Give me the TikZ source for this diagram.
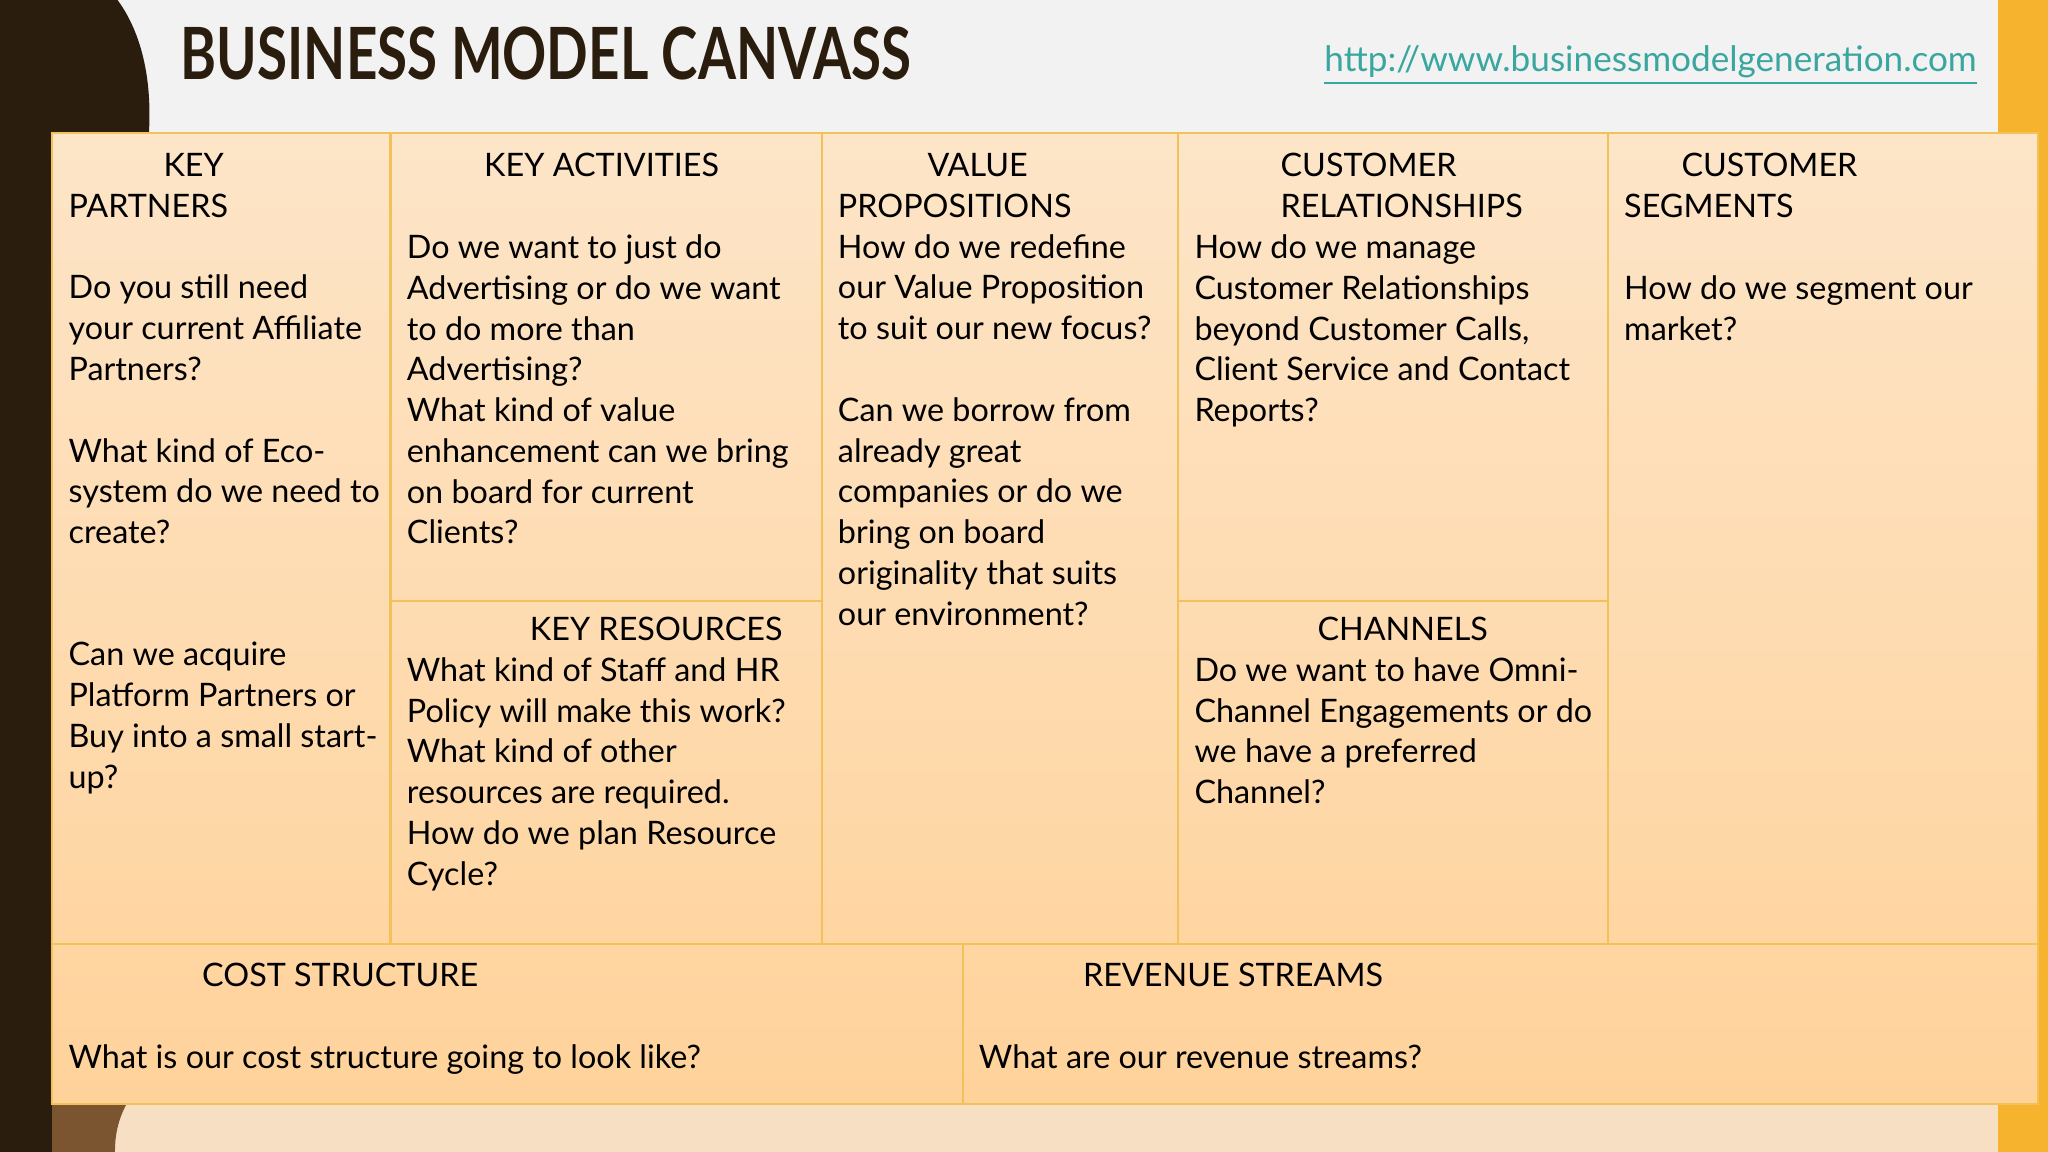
\documentclass[tikz,border=0pt]{standalone}
\usepackage{fontspec}
\setmainfont{Lato}
\definecolor{brown}{HTML}{2B1D0E}
\definecolor{grid}{HTML}{F2C15A}
\definecolor{orng}{HTML}{F5B32E}
\definecolor{teal}{HTML}{3AA6A0}
\definecolor{peach}{HTML}{F7DFC3}
\definecolor{lbrown}{HTML}{7A5530}
\definecolor{ctop}{HTML}{FDE5C8}
\definecolor{cbot}{HTML}{FFD29A}
\begin{document}
\begin{tikzpicture}[x=0.013061cm,y=-0.013061cm,
  txt/.style={anchor=north west,inner sep=0pt,align=left,font=\fontsize{9.2pt}{11.6pt}\selectfont,text=black},
  ln/.style={draw=grid,line width=0.6pt}]
\useasboundingbox (0,0) rectangle (1568,882);
\fill[white!95!black] (0,0) rectangle (1568,882);
\fill[orng] (1530,0) rectangle (1568,882);
\fill[brown] (0,0) rectangle (40,882);
\fill[brown] (40,0) -- (90,0) .. controls (112,30) and (116,70) .. (114,102) -- (40,102) -- cycle;
\fill[peach] (40,845) rectangle (1530,882);
\fill[lbrown] (40,845) -- (97,845) .. controls (90,858) and (88,870) .. (88,882) -- (40,882) -- cycle;
\shade[top color=ctop,bottom color=cbot] (40,102) rectangle (1560,845);
\draw[ln] (40,102) rectangle (1560,845);
\draw[ln] (299,102) -- (299,723);
\draw[ln] (629,102) -- (629,723);
\draw[ln] (902,102) -- (902,723);
\draw[ln] (1231,102) -- (1231,723);
\draw[ln] (40,723) -- (1560,723);
\draw[ln] (299,460) -- (629,460);
\draw[ln] (902,460) -- (1231,460);
\draw[ln] (737,723) -- (737,845);
\node[anchor=base west,inner sep=0pt,text=brown,xscale=0.76,font=\fontsize{20.5pt}{22pt}\bfseries] (title) at (138,61) {BUSINESS MODEL CANVASS};
\node[anchor=base east,inner sep=0pt,text=teal,font=\fontsize{10pt}{12pt}\selectfont] (url) at (1514,55) {\underline{http://www.businessmodelgeneration.com}};
\node[txt] (kp) at (52,117) {\hspace*{27pt}KEY\\PARTNERS\\[11.6pt]Do you still need\\your current Affiliate\\Partners?\\[11.6pt]What kind of Eco-\\system do we need to\\create?\\[23.2pt]Can we acquire\\Platform Partners or\\Buy into a small start-\\up?};
\node[txt] (ka) at (311,117) {\hspace*{22pt}KEY ACTIVITIES\\[11.6pt]Do we want to just do\\Advertising or do we want\\to do more than\\Advertising?\\What kind of value\\enhancement can we bring\\on board for current\\Clients?};
\node[txt] (kr) at (311,472) {\hspace*{35pt}KEY RESOURCES\\What kind of Staff and HR\\Policy will make this work?\\What kind of other\\resources are required.\\How do we plan Resource\\Cycle?};
\node[txt] (vp) at (641,117) {\hspace*{25.5pt}VALUE\\PROPOSITIONS\\How do we redefine\\our Value Proposition\\to suit our new focus?\\[11.6pt]Can we borrow from\\already great\\companies or do we\\bring on board\\originality that suits\\our environment?};
\node[txt] (cr) at (914,117) {\hspace*{24.5pt}CUSTOMER\\\hspace*{24.5pt}RELATIONSHIPS\\How do we manage\\Customer Relationships\\beyond Customer Calls,\\Client Service and Contact\\Reports?};
\node[txt] (ch) at (914,472) {\hspace*{35pt}CHANNELS\\Do we want to have Omni-\\Channel Engagements or do\\we have a preferred\\Channel?};
\node[txt] (cs) at (1243,117) {\hspace*{16.3pt}CUSTOMER\\SEGMENTS\\[11.6pt]How do we segment our\\market?};
\node[txt] (co) at (52,737) {\hspace*{38pt}COST STRUCTURE\\[11.6pt]What is our cost structure going to look like?};
\node[txt] (rs) at (749,737) {\hspace*{29.6pt}REVENUE STREAMS\\[11.6pt]What are our revenue streams?};
\end{tikzpicture}
\end{document}
